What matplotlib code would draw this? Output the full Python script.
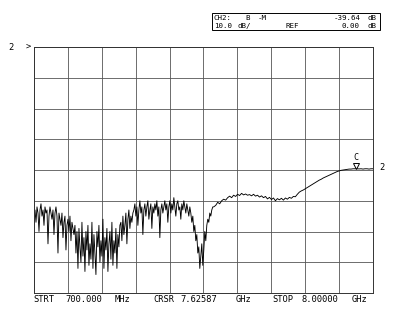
# Network analyzer plot, CH2 B-M, 10 dB/div, ref 0 dB
import numpy as np
import matplotlib
matplotlib.use('Agg')
from matplotlib import pyplot as plt
from matplotlib.transforms import offset_copy

# Sweep settings
start_ghz = 0.7
noise_stop_ghz = 4.55
smooth_start_ghz = 4.57
stop_ghz = 8.0
cursor_ghz = 7.62587
cursor_db = -39.64
ref_db = 0.0
db_per_div = 10.0

# Noisy low band (dB), evenly spaced
noisy_db = [
    -55, -53, -57, -52, -54, -60, -53, -51, -55, -53, -58, -52, -54, -53,
    -64, -55, -52, -54, -56, -53, -61, -54, -52, -55, -67, -54,
    -56, -58, -54, -62, -57, -55, -66, -58, -56, -60, -55, -63, -57, -59, -61,
    -58, -67, -60, -72, -59, -65, -70, -57, -68, -62, -73, -60, -66, -58,
    -71, -64, -69, -57, -72, -61, -67, -74, -60, -65, -58, -70, -63, -68,
    -56, -72, -62, -66, -59, -73, -64, -60, -69, -57, -71, -63, -67, -59,
    -72, -61, -65, -58,
    -57, -63, -55, -61, -58, -54, -64, -56, -53, -59, -55, -57, -54,
    -53, -51, -55, -52, -58, -53, -50, -54, -52, -61, -53, -51, -55, -52,
    -50, -56, -53, -51, -59, -52, -54, -51, -53, -50, -55, -52, -62, -53,
    -51, -54, -52, -50, -53, -51, -57, -52, -50, -54, -51, -53, -49, -52,
    -55, -51, -50, -53, -52, -56, -51, -53, -50, -52, -54, -51, -53, -55, -52,
    -54, -57, -55, -60, -58, -63, -61, -67, -65, -72, -68, -64, -71, -66,
    -60, -63, -58, -56, -57, -54, -55, -53, -52,
]

# Upper band (dB), evenly spaced
smooth_db = [
    -52, -51.5, -50.5, -51, -50, -49.5, -49.8, -49, -48.5, -49, -48.2, -48.6,
    -47.9, -48.3, -47.6, -48.1, -47.8, -48.2,
    -48, -48.4, -47.9, -48.5, -48.2, -48.8, -48.4, -49, -48.6, -49.4, -48.9,
    -49.6, -49.1, -50, -49.3, -49.7, -49.2, -49.8, -49.1, -49.5, -48.9, -49.2,
    -48.6, -48.7, -47.9,
    -47.2, -46.8, -46.5, -46.1, -45.7, -45.3, -44.9, -44.5, -44.1, -43.7,
    -43.3, -43, -42.6, -42.3, -42, -41.7, -41.4, -41.1, -40.8, -40.5, -40.3,
    -40.1, -40, -39.9, -39.8, -39.7, -39.7, -39.6, -39.6, -39.6, -39.65,
    -39.6, -39.7, -39.6, -39.6, -39.7, -39.6, -39.6,
]

freq_ghz = np.concatenate([np.linspace(start_ghz, noise_stop_ghz, len(noisy_db)),
                           np.linspace(smooth_start_ghz, stop_ghz, len(smooth_db))])
trace_db = np.concatenate([noisy_db, smooth_db])

W, H = 400, 319
fig = plt.figure(figsize=(W / 100, H / 100), dpi=100)
ax = fig.add_axes([34 / W, 1 - 293 / H, 339 / W, 246 / H])

ax.plot(freq_ghz, trace_db, color='black', lw=0.65)

ax.set_xlim(start_ghz, stop_ghz)
ax.set_ylim(ref_db - 8 * db_per_div, ref_db)
ax.set_xticks(np.linspace(start_ghz, stop_ghz, 11))
ax.set_yticks(np.arange(ref_db - 8 * db_per_div, ref_db + 1, db_per_div))
ax.grid(True, color='#555555', lw=0.6)
ax.tick_params(length=0, labelbottom=False, labelleft=False)
for s in ax.spines.values():
    s.set_color('#333333')
    s.set_linewidth(0.7)

# cursor marker
mk = offset_copy(ax.transData, fig=fig, x=0, y=2.6, units='dots')
ax.plot([cursor_ghz], [cursor_db], marker='v', ms=4.5, mfc='white',
        mec='black', mew=0.7, transform=mk, clip_on=False)
ax.annotate('C', (cursor_ghz, cursor_db), xytext=(0, 11),
            textcoords='offset pixels', ha='center', va='center',
            fontsize=6, family='DejaVu Sans Mono')

mono = 'DejaVu Sans Mono'


def txt(x, y, s, size=6.3):
    fig.text(x / W, 1 - y / H, s, ha='left', va='center',
             fontsize=size, family=mono, color='black')


# header box
fig.patches.append(plt.Rectangle((212 / W, 1 - 30 / H), 168 / W, 17 / H,
                                 transform=fig.transFigure, fill=False,
                                 ec='black', lw=0.7))
txt(214, 17.6, 'CH2:', 5.4)
txt(245, 17.6, 'B', 5.4)
txt(258, 17.6, '-M', 5.4)
txt(334, 17.6, '-39.64', 5.4)
txt(367, 17.6, 'dB', 5.4)
txt(214, 25.6, '10.0', 5.4)
txt(237, 25.6, 'dB/', 5.4)
txt(285, 25.6, 'REF', 5.4)
txt(342, 25.6, '0.00', 5.4)
txt(367, 25.6, 'dB', 5.4)

# reference markers
txt(8, 47, '2')
txt(26, 47, '>')
txt(379, 168, '2')

# bottom annotation
txt(33, 299, 'STRT')
txt(65, 299, '700.000')
txt(115, 299, 'MHz')
txt(153, 299, 'CRSR')
txt(180, 299, '7.62587')
txt(236, 299, 'GHz')
txt(272, 299, 'STOP')
txt(301, 299, '8.00000')
txt(352, 299, 'GHz')

fig.savefig('out.png', dpi=100)
